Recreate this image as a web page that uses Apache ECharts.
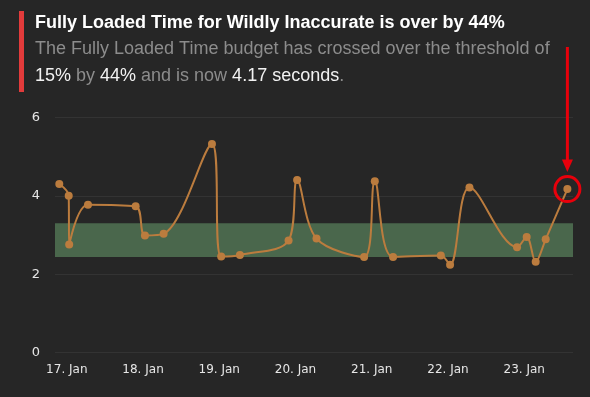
<!DOCTYPE html>
<html>
<head>
<meta charset="utf-8">
<script src="https://cdn.jsdelivr.net/npm/echarts@6/dist/echarts.min.js"></script>
<style>
  html, body { margin: 0; padding: 0; background: #262626; }
  #chart { width: 590px; height: 397px; }
</style>
</head>
<body>
<div id="chart"></div>
<script>
// measurement times (UTC) and fully loaded time in seconds
const times = [
  '2023-01-16T21:38', '2023-01-17T00:36', '2023-01-17T00:45', '2023-01-17T06:40',
  '2023-01-17T21:40', '2023-01-18T00:36', '2023-01-18T06:29', '2023-01-18T21:42',
  '2023-01-19T00:36', '2023-01-19T06:30', '2023-01-19T21:49', '2023-01-20T00:31',
  '2023-01-20T06:37', '2023-01-20T21:36', '2023-01-21T00:58', '2023-01-21T06:43',
  '2023-01-21T21:45', '2023-01-22T00:40', '2023-01-22T06:46', '2023-01-22T21:45',
  '2023-01-23T00:47', '2023-01-23T03:37', '2023-01-23T06:46', '2023-01-23T13:36'
]
const values = [
  4.30, 4.00, 2.76, 3.77,
  3.73, 2.99, 3.03, 5.32,
  2.45, 2.49, 2.86, 4.40,
  2.91, 2.44, 4.37, 2.44,
  2.48, 2.24, 4.21, 2.69,
  2.95, 2.32, 2.89, 4.17
]
// budget band (threshold 15% around budget)
const band = [2.44, 3.30]
const tickDays = ['2023-01-17', '2023-01-18', '2023-01-19', '2023-01-20', '2023-01-21', '2023-01-22', '2023-01-23']
const yTicks = [0, 2, 4, 6]
const xRange = ['2023-01-16T20:17', '2023-01-23T15:22']

const toTs = (s) => new Date(s + (s.length > 10 ? 'Z' : 'T00:00Z')).getTime()
const months = ['Jan', 'Feb', 'Mar', 'Apr', 'May', 'Jun', 'Jul', 'Aug', 'Sep', 'Oct', 'Nov', 'Dec']

const lineColor = '#bb7c3e'
const red = '#e8000b'

const chart = echarts.init(document.getElementById('chart'))

const sub = { fontFamily: 'Liberation Sans', fontWeight: 'normal', fontSize: 18, lineHeight: 27 }

const option = {
  backgroundColor: '#262626',
  animation: false,
  title: [
    {
      text: 'Fully Loaded Time for Wildly Inaccurate is over by 44%',
      left: 35,
      top: 13,
      padding: 0,
      textStyle: {
        color: '#ffffff',
        fontFamily: 'Liberation Sans',
        fontWeight: 'bold',
        fontSize: 18,
        lineHeight: 20
      }
    },
    {
      text: '{g|The Fully Loaded Time budget has crossed over the threshold of}\n' +
        '{w|15%}{g| by }{w|44%}{g| and is now }{w|4.17 seconds}{g|.}',
      left: 35,
      top: 36,
      padding: 0,
      textStyle: Object.assign({
        rich: {
          g: Object.assign({ color: '#8c8c8c' }, sub),
          w: Object.assign({ color: '#f2f2f2' }, sub)
        }
      }, sub)
    }
  ],
  grid: { left: 55, right: 17, top: 117.3, bottom: 44.3, containLabel: false },
  xAxis: {
    type: 'value',
    min: toTs(xRange[0]),
    max: toTs(xRange[1]),
    axisLine: { show: false },
    axisTick: { show: false },
    splitLine: { show: false },
    axisLabel: {
      customValues: tickDays.map(toTs),
      color: '#e6e6e6',
      fontFamily: 'DejaVu Sans',
      fontSize: 12,
      margin: 11,
      formatter: (v) => {
        const d = new Date(v)
        return d.getUTCDate() + '. ' + months[d.getUTCMonth()]
      }
    }
  },
  yAxis: {
    type: 'value',
    min: yTicks[0],
    max: yTicks[yTicks.length - 1],
    interval: 2,
    axisLine: { show: false },
    axisTick: { show: false },
    splitLine: { lineStyle: { color: '#333333', width: 1 } },
    axisLabel: {
      color: '#e6e6e6',
      fontFamily: 'DejaVu Sans',
      fontSize: 13,
      margin: 15,
      padding: [4, 0, 0, 0]
    }
  },
  series: [
    {
      type: 'line',
      data: times.map((t, i) => [toTs(t), values[i]]),
      smooth: 0.35,
      symbol: 'circle',
      symbolSize: 8,
      lineStyle: { color: lineColor, width: 2 },
      itemStyle: { color: lineColor },
      markArea: {
        silent: true,
        itemStyle: { color: '#4a674c', opacity: 1 },
        data: [[{ yAxis: band[0] }, { yAxis: band[1] }]]
      },
      markPoint: {
        silent: true,
        symbol: 'circle',
        symbolSize: 25,
        label: { show: false },
        itemStyle: { color: 'transparent', borderColor: red, borderWidth: 3 },
        data: [{ coord: [toTs(times[times.length - 1]), values[values.length - 1]] }]
      },
      z: 3
    }
  ]
}

chart.setOption(option)

// red accent bar and the arrow pointing at the latest value
const last = chart.convertToPixel({ seriesIndex: 0 }, [toTs(times[times.length - 1]), values[values.length - 1]])
const tipY = last[1] - 17
chart.setOption({
  graphic: [
    { type: 'rect', shape: { x: 19, y: 11, width: 5, height: 81 }, style: { fill: '#e23b3b' } },
    { type: 'line', shape: { x1: last[0], y1: 47, x2: last[0], y2: tipY - 8 }, style: { stroke: red, lineWidth: 3 } },
    {
      type: 'polygon',
      shape: { points: [[last[0] - 5.5, tipY - 12.5], [last[0] + 5.5, tipY - 12.5], [last[0], tipY]] },
      style: { fill: red }
    }
  ]
})
</script>
</body>
</html>
